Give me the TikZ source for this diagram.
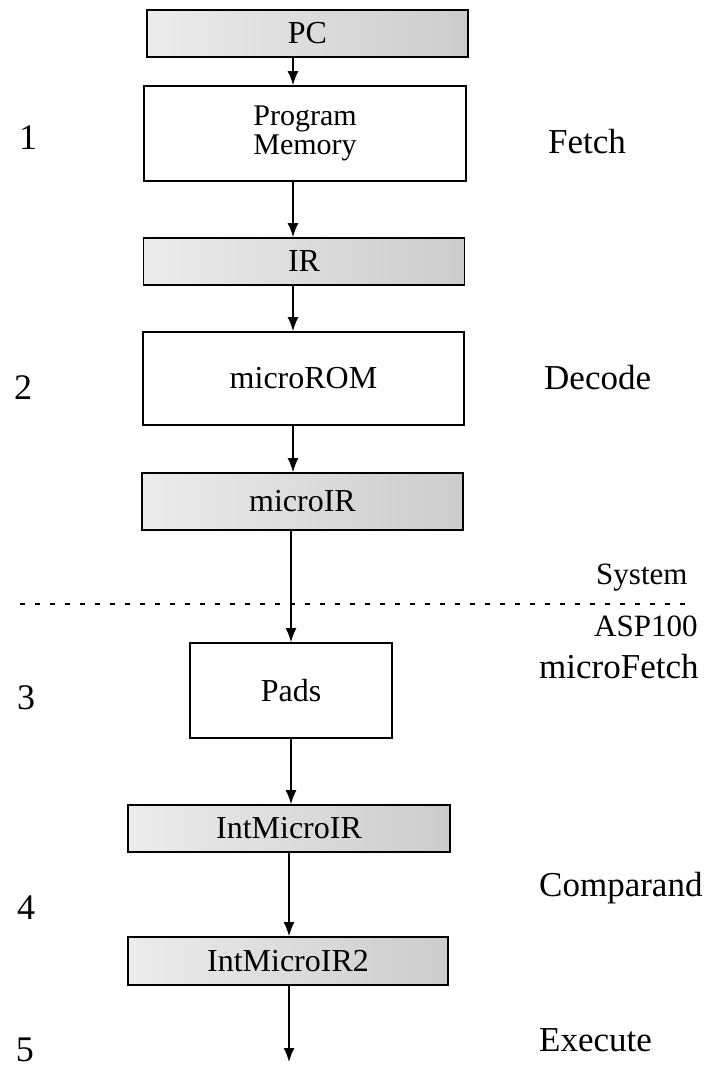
\documentclass[tikz,border=0pt]{standalone}
\usepackage{fontspec}
\setmainfont{Liberation Serif}
\usetikzlibrary{arrows,arrows.meta,positioning}

\tikzset{
  reg/.style={draw, line width=1.6pt, rectangle, minimum width=321pt, minimum height=47pt,
    inner sep=0pt, left color=gray!15, right color=gray!40, font=\fontsize{32}{34}\selectfont},
  unit/.style={draw, line width=1.6pt, rectangle, inner sep=0pt, fill=white,
    font=\fontsize{32}{34}\selectfont},
  stage/.style={anchor=west, inner sep=0pt, font=\fontsize{35}{38}\selectfont},
  num/.style={inner sep=0pt, font=\fontsize{36}{38}\selectfont},
  flow/.style={-{Latex[length=14pt,width=11pt]}, line width=1.6pt},
}

\begin{document}
\begin{tikzpicture}[x=1pt, y=-1pt]
  \useasboundingbox (0,0) rectangle (711,1081);

  % Pipeline registers and units
  \node[reg] (pc) at (307.5,33.5) {PC};
  \node[unit, minimum width=322pt, minimum height=95pt, align=center,
        font=\fontsize{30}{29}\selectfont] (pmem) at (305,133.5) {Program\\Memory};
  \node[reg] (ir) at (304,261.5) {IR};
  \node[unit, minimum width=321pt, minimum height=93pt] (urom) at (303.5,378.5) {microROM};
  \node[reg, minimum height=57pt] (uir) at (302.5,501.5) {microIR};
  \node[unit, minimum width=202pt, minimum height=95pt] (pads) at (291,690.5) {Pads};
  \node[reg, minimum width=322pt] (imir) at (289,828.5) {IntMicroIR};
  \node[reg, minimum width=320pt, minimum height=48pt] (imir2) at (288,961) {IntMicroIR2};

  % Axis of the arrows and free end
  \coordinate (ax) at (293,0);
  \coordinate (exec) at (289,1062);

  % Connectors
  \draw[flow] (pc.south -| ax) -- (pmem.north -| ax);
  \draw[flow] (pmem.south -| ax) -- (ir.north -| ax);
  \draw[flow] (ir.south -| ax) -- (urom.north -| ax);
  \draw[flow] (urom.south -| ax) -- (uir.north -| ax);
  \draw[flow] (uir.south -| pads) -- (pads.north);
  \draw[flow] (pads.south) -- (imir.north -| pads);
  \draw[flow] (imir.south -| exec) -- (imir2.north -| exec);
  \draw[flow] (imir2.south -| exec) -- (exec);

  % System / ASP100 boundary
  \coordinate (bl) at (20,604);
  \coordinate (br) at (691,604);
  \draw[line width=1.3pt, dash pattern=on 5pt off 10pt] (bl) -- (br);
  \node[stage, font=\fontsize{31}{34}\selectfont] (sys) at (596,578) {System};
  \node[stage, font=\fontsize{31}{34}\selectfont] (asp) at (594,626) {ASP100};

  % Stage numbers
  \node[num] (n1) at (28,138) {1};
  \node[num] (n2) at (23,388) {2};
  \node[num] (n3) at (26,698) {3};
  \node[num] (n4) at (26,908) {4};
  \node[num] (n5) at (25,1050) {5};

  % Stage names
  \node[stage] (fetch) at (548,142) {Fetch};
  \node[stage] (decode) at (544,378) {Decode};
  \node[stage] (mfetch) at (539,667) {microFetch};
  \node[stage] (comp) at (539,888) {Comparand};
  \node[stage] (execute) at (539,1040) {Execute};
\end{tikzpicture}
\end{document}
